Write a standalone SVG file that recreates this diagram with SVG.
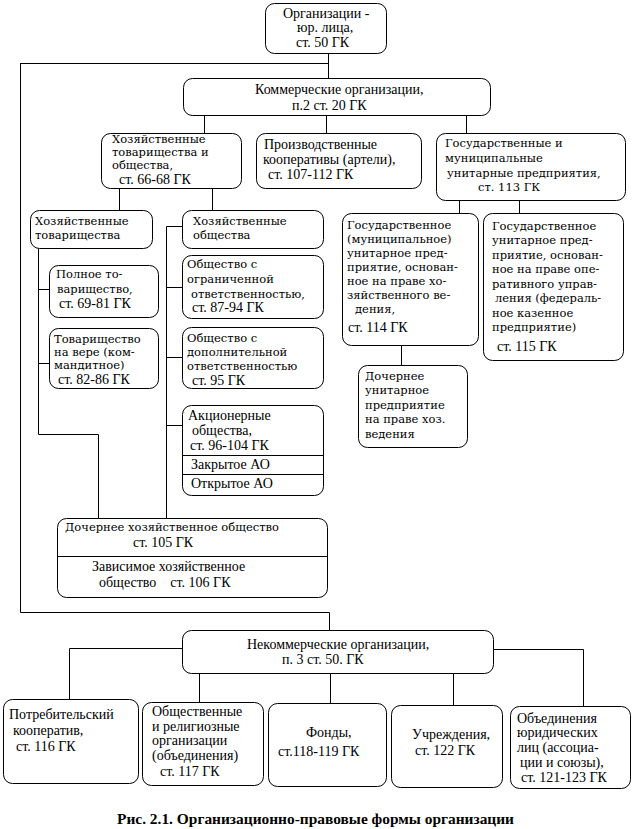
<svg xmlns="http://www.w3.org/2000/svg" width="633" height="829" viewBox="0 0 633 829">
<style>
rect{fill:#fff;stroke:#000;stroke-width:1}
.d{stroke:#000;stroke-width:1;fill:none}
text{fill:#000}
.t{font-family:"Liberation Serif","Times New Roman",serif;font-size:14px}
.c{font-family:"DejaVu Serif","Liberation Serif",serif;font-size:11.5px}
.cap{font-family:"Liberation Serif","Times New Roman",serif;font-size:15px;font-weight:bold}
</style>
<rect x="0" y="0" width="633" height="829" style="stroke:none"/>
<g id="connectors" class="d">
<path d="M20.5 63.5H328.5M328.5 53V78M20.5 63V612.5H329.5V630M204.5 115V133M326.5 115V133M466.5 115V133M119.5 188V210M212.5 188V210M38.5 248V434.5H98.5V518M38.5 289.5H49M38.5 363.5H49M182 226.5H166.5V518M166.5 287.5H182M166.5 357.5H182M166.5 425.5H182M459.5 200V213M519.5 200V213M401.5 345V365M182 648.5H69.5V699M199.5 673V702M330.5 673V703M453.5 673V705M493 649.5H583.5V706"/>
</g>
<g id="n_org"><rect x="265.5" y="3.5" width="121" height="50" rx="9"/>
<text class="t" x="283" y="18">Организации -</text><text class="t" x="297" y="32">юр. лица,</text><text class="t" x="296" y="47">ст. 50 ГК</text></g>
<g id="n_comm"><rect x="183.5" y="78.5" width="307" height="37" rx="9"/>
<text class="t" x="255" y="94">Коммерческие организации,</text><text class="t" x="292" y="110">п.2 ст. 20 ГК</text></g>
<g id="n_hto"><rect x="101.5" y="133.5" width="140" height="55" rx="9"/>
<text class="c" x="112" y="143">Хозяйственные</text><text class="c" x="112" y="156">товарищества и</text><text class="c" x="112" y="169">общества,</text><text class="t" x="119" y="184">ст. 66-68 ГК</text></g>
<g id="n_prod"><rect x="256.5" y="133.5" width="165" height="55" rx="9"/>
<text class="t" x="264" y="149">Производственные</text><text class="t" x="263" y="163.5">кооперативы (артели),</text><text class="t" x="268" y="178.5">ст. 107-112 ГК</text></g>
<g id="n_gmup"><rect x="436.5" y="133.5" width="189" height="67" rx="9"/>
<text class="c" x="445" y="147">Государственные и</text><text class="c" x="445" y="162">муниципальные</text><text class="c" x="447" y="177">унитарные предприятия,</text><text class="c" x="478" y="191">ст. 113 ГК</text></g>
<g id="n_ht"><rect x="30.5" y="210.5" width="122" height="38" rx="9"/>
<text class="c" x="35" y="225">Хозяйственные</text><text class="c" x="35" y="239">товарищества</text></g>
<g id="n_ho"><rect x="182.5" y="210.5" width="141" height="38" rx="9"/>
<text class="c" x="193" y="225">Хозяйственные</text><text class="c" x="193" y="239">общества</text></g>
<g id="n_pt"><rect x="49.5" y="265.5" width="109" height="52" rx="9"/>
<text class="c" x="56" y="278">Полное то-</text><text class="c" x="57" y="293">варищество,</text><text class="t" x="59" y="308">ст. 69-81 ГК</text></g>
<g id="n_tv"><rect x="49.5" y="328.5" width="109" height="60" rx="9"/>
<text class="c" x="54" y="343">Товарищество</text><text class="c" x="54" y="356">на вере (ком-</text><text class="c" x="54" y="369">мандитное)</text><text class="t" x="58" y="384">ст. 82-86 ГК</text></g>
<g id="n_ooo"><rect x="182.5" y="255.5" width="141" height="63" rx="9"/>
<text class="c" x="187" y="268">Общество с</text><text class="c" x="187" y="283">ограниченной</text><text class="c" x="191" y="298">ответственностью,</text><text class="t" x="192" y="312">ст. 87-94 ГК</text></g>
<g id="n_odo"><rect x="182.5" y="327.5" width="141" height="61" rx="9"/>
<text class="c" x="187" y="342">Общество с</text><text class="c" x="187" y="356">дополнительной</text><text class="c" x="187" y="370">ответственностью</text><text class="t" x="192" y="385">ст. 95 ГК</text></g>
<g id="n_ao"><rect x="182.5" y="405.5" width="141" height="90" rx="9"/>
<path class="d" d="M182.5 455.5H323.5M182.5 474.5H323.5"/>
<text class="t" x="188" y="420">Акционерные</text><text class="t" x="192" y="435">общества,</text><text class="t" x="190" y="450">ст. 96-104 ГК</text><text class="t" x="191" y="469">Закрытое АО</text><text class="t" x="191" y="488">Открытое АО</text></g>
<g id="n_dho"><rect x="57.5" y="518.5" width="270" height="79" rx="9"/>
<path class="d" d="M57.5 556.5H327.5"/>
<text class="c" x="65" y="531">Дочернее хозяйственное общество</text><text class="t" x="133" y="547">ст. 105 ГК</text><text class="t" x="92" y="571">Зависимое хозяйственное</text><text class="t" x="99" y="587" xml:space="preserve">общество    ст. 106 ГК</text></g>
<g id="n_gup1"><rect x="342.5" y="213.5" width="136" height="132" rx="9"/>
<text class="c" x="347" y="229">Государственное</text><text class="c" x="347" y="243">(муниципальное)</text><text class="c" x="347" y="257">унитарное пред-</text><text class="c" x="347" y="271">приятие, основан-</text><text class="c" x="347" y="285">ное на праве хо-</text><text class="c" x="347" y="299">зяйственного ве-</text><text class="c" x="355" y="313">дения,</text><text class="t" x="348" y="332">ст. 114 ГК</text></g>
<g id="n_gup2"><rect x="483.5" y="213.5" width="140" height="147" rx="9"/>
<text class="c" x="492" y="230">Государственное</text><text class="c" x="492" y="244">унитарное пред-</text><text class="c" x="492" y="259">приятие, основан-</text><text class="c" x="492" y="273">ное на праве опе-</text><text class="c" x="492" y="288">ративного управ-</text><text class="c" x="495" y="302">ления (федераль-</text><text class="c" x="492" y="317">ное казенное</text><text class="c" x="492" y="331">предприятие)</text><text class="t" x="497" y="351">ст. 115 ГК</text></g>
<g id="n_dup"><rect x="358.5" y="365.5" width="109" height="82" rx="9"/>
<text class="c" x="365" y="380">Дочернее</text><text class="c" x="365" y="394">унитарное</text><text class="c" x="365" y="409">предприятие</text><text class="c" x="365" y="423">на праве хоз.</text><text class="c" x="365" y="438">ведения</text></g>
<g id="n_nko"><rect x="182.5" y="630.5" width="311" height="43" rx="9"/>
<text class="t" x="247" y="649">Некоммерческие организации,</text><text class="t" x="282" y="664">п. 3 ст. 50. ГК</text></g>
<g id="n_b1"><rect x="3.5" y="699.5" width="135" height="84" rx="9"/>
<text class="t" x="9" y="719">Потребительский</text><text class="t" x="13" y="735">кооператив,</text><text class="t" x="16" y="751">ст. 116 ГК</text></g>
<g id="n_b2"><rect x="142.5" y="702.5" width="121" height="83" rx="9"/>
<text class="t" x="152" y="716">Общественные</text><text class="t" x="152" y="731">и религиозные</text><text class="t" x="152" y="745">организации</text><text class="t" x="152" y="760">(объединения)</text><text class="t" x="160" y="776">ст. 117 ГК</text></g>
<g id="n_b3"><rect x="268.5" y="703.5" width="118" height="83" rx="9"/>
<text class="t" x="306" y="737">Фонды,</text><text class="t" x="278" y="756">ст.118-119 ГК</text></g>
<g id="n_b4"><rect x="391.5" y="705.5" width="111" height="82" rx="9"/>
<text class="t" x="412" y="739">Учреждения,</text><text class="t" x="415" y="755">ст. 122 ГК</text></g>
<g id="n_b5"><rect x="510.5" y="706.5" width="120" height="82" rx="9"/>
<text class="t" x="517" y="723">Объединения</text><text class="t" x="517" y="737">юридических</text><text class="t" x="517" y="752">лиц (ассоциа-</text><text class="t" x="520" y="767">ции и союзы),</text><text class="t" x="521" y="782">ст. 121-123 ГК</text></g>
<text class="cap" x="117" y="824" textLength="397" lengthAdjust="spacingAndGlyphs">Рис. 2.1. Организационно-правовые формы организации</text>
</svg>
